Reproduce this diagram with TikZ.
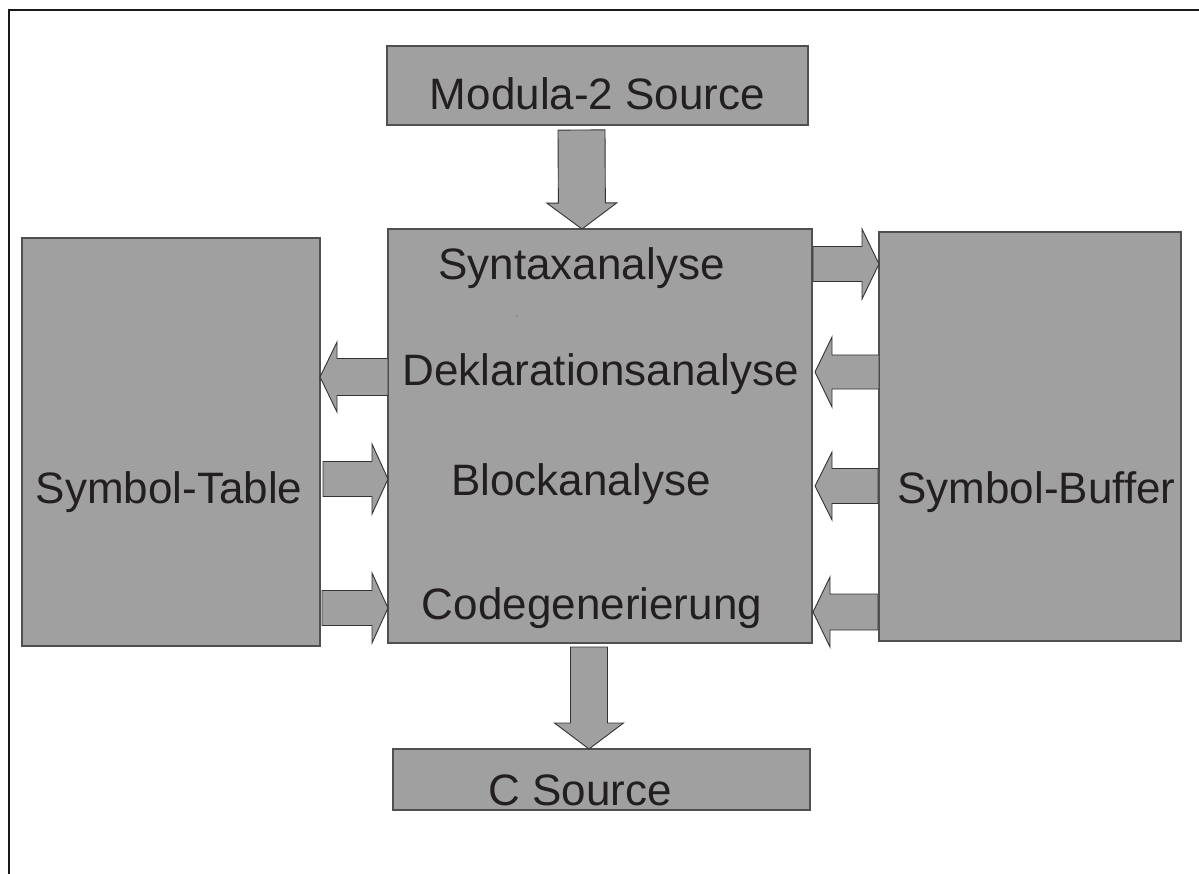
\documentclass[tikz,border=0pt]{standalone}
\usepackage{fontspec}
\setmainfont{Liberation Sans}
\usetikzlibrary{calc}
\definecolor{boxgray}{RGB}{160,160,160}
\definecolor{edgegray}{RGB}{80,80,80}
\definecolor{inkgray}{RGB}{35,31,32}

% block arrow: tail, tip, shaft half-width, head half-width, head length
\newcommand{\blockarrow}[5]{%
  \coordinate (ba-h) at ($(#2)!#5!(#1)$);
  \filldraw[arrowbody] ($(#1)!#3!90:(#2)$) -- ($(ba-h)!#3!90:(#2)$)
    -- ($(ba-h)!#4!90:(#2)$) -- (#2) -- ($(ba-h)!#4!-90:(#2)$)
    -- ($(ba-h)!#3!-90:(#2)$) -- ($(#1)!#3!-90:(#2)$) -- cycle;
}

\begin{document}
\begin{tikzpicture}[x=1pt, y=-1pt,
  box/.style={draw=edgegray, line width=1.2pt, fill=boxgray, inner sep=0pt, outer sep=0pt},
  lbl/.style={font=\fontsize{44}{50}\selectfont, text=inkgray, anchor=base, inner sep=0pt},
  arrowbody/.style={draw=black!80, fill=boxgray, line width=0.9pt, line join=miter}]

\useasboundingbox (0,0) rectangle (1199,874);
\fill[white] (0,0) rectangle (1199,874);

% outer frame (top and left edges)
\draw[line width=2pt, black!90] (9.3,874) -- (9.3,10) -- (1199,10);

% boxes
\node[box, minimum width=421pt, minimum height=79pt]  (src)    at (597.5,85.5) {};
\node[box, minimum width=424pt, minimum height=414pt] (main)   at (600,436)    {};
\node[box, minimum width=298pt, minimum height=408pt] (table)  at (171,442)    {};
\node[box, minimum width=302pt, minimum height=409pt] (buffer) at (1030,436.5) {};
\node[box, minimum width=417pt, minimum height=61pt]  (csrc)   at (601.5,779.5) {};

% labels
\node[lbl] (src-l)    at (597.5,110) {Modula-2 Source};
\node[lbl] (syn-l)    at (581.5,280) {Syntaxanalyse};
\node[lbl] (dek-l)    at (600.5,385) {Deklarationsanalyse};
\node[lbl] (blk-l)    at (581,495)   {Blockanalyse};
\node[lbl] (cod-l)    at (592,619)   {Codegenerierung};
\node[lbl] (table-l)  at (169,503)   {Symbol-Table};
\node[lbl] (buffer-l) at (1036.5,503) {Symbol-Buffer};
\node[lbl] (csrc-l)   at (580,805)   {C Source};

% small speck inside the main box
\fill[black!70] (517,316) circle (0.6pt);

% arrow end points
\coordinate (d1a) at ($(src.south)+(-16,5)$);
\coordinate (d1b) at ($(main.north)+(-18,0)$);
\coordinate (sya) at ($(main.north east)+(1,35)$);
\coordinate (syb) at ($(buffer.north west)+(0,32)$);
\coordinate (dka) at ($(main.north west)+(0,148)$);
\coordinate (dkb) at ($(table.north east)+(0,139)$);
\coordinate (dra) at ($(buffer.north west)+(0,140)$);
\coordinate (drb) at ($(main.north east)+(3,143)$);
\coordinate (bla) at ($(table.north east)+(3,241)$);
\coordinate (blb) at ($(main.north west)+(0,250)$);
\coordinate (cla) at ($(table.north east)+(2,370)$);
\coordinate (clb) at ($(main.north west)+(0,379)$);
\coordinate (bra) at ($(buffer.north west)+(-1,254)$);
\coordinate (brb) at ($(main.north east)+(3,257)$);
\coordinate (cra) at ($(buffer.north west)+(-1,380)$);
\coordinate (crb) at ($(main.north east)+(1,383)$);
\coordinate (d2a) at ($(main.south)+(-11,4)$);
\coordinate (d2b) at ($(csrc.north)+(-12.5,0)$);

% arrows
\blockarrow{d1a}{d1b}{23.5pt}{35pt}{26pt}
\blockarrow{sya}{syb}{17.5pt}{35pt}{17pt}
\blockarrow{dka}{dkb}{18.5pt}{35pt}{17pt}
\blockarrow{dra}{drb}{17pt}{35pt}{17pt}
\blockarrow{bla}{blb}{17.5pt}{35pt}{16pt}
\blockarrow{cla}{clb}{17.5pt}{35pt}{16pt}
\blockarrow{bra}{brb}{17.5pt}{34pt}{17pt}
\blockarrow{cra}{crb}{18pt}{35pt}{17pt}
\blockarrow{d2a}{d2b}{18.5pt}{34.5pt}{26pt}

\end{tikzpicture}
\end{document}
